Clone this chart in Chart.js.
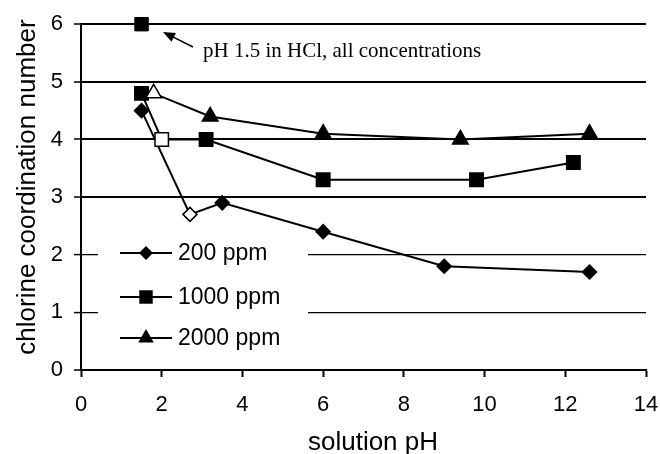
<!DOCTYPE html>
<html>
<head>
<meta charset="utf-8">
<script src="https://cdn.jsdelivr.net/npm/chart.js@4"></script>
<style>
  body { margin: 0; background: #fff; }
  canvas { display: block; }
</style>
</head>
<body>
<canvas id="myChart" width="660" height="454"></canvas>
<script>
// data
const ph200 = [1.5, 2.7, 3.5, 6.0, 9.0, 12.6];
const cn200 = [4.5, 2.7, 2.9, 2.4, 1.8, 1.7];
const ph1000 = [1.5, 2.0, 3.1, 6.0, 9.8, 12.2];
const cn1000 = [4.8, 4.0, 4.0, 3.3, 3.3, 3.6];
const ph2000 = [1.8, 3.2, 6.0, 9.4, 12.6];
const cn2000 = [4.8, 4.4, 4.1, 4.0, 4.1];
const phHCl = [1.5];
const cnHCl = [6.0];
// which points are drawn hollow
const open200 = [1];
const open1000 = [1];
const open2000 = [0];

const seriesNames = ['200 ppm', '1000 ppm', '2000 ppm'];
const xTicks = [0, 2, 4, 6, 8, 10, 12, 14];
const yTicks = [0, 1, 2, 3, 4, 5, 6];

const SANS = "'Liberation Sans', Arial, sans-serif";
const SERIF = "'Liberation Serif', 'Times New Roman', serif";

function pts(xs, ys) {
    return xs.map((x, i) => ({ x: x, y: ys[i] }));
}
function fills(n, open) {
    const out = [];
    for (let i = 0; i < n; i++) out.push(open.includes(i) ? '#fff' : '#000');
    return out;
}

function marker(ctx, style, x, y, r) {
    ctx.beginPath();
    if (style === 'rect') {
        const s = r * Math.SQRT1_2;
        ctx.rect(x - s, y - s, 2 * s, 2 * s);
    } else if (style === 'rectRot') {
        ctx.moveTo(x - r, y); ctx.lineTo(x, y - r); ctx.lineTo(x + r, y); ctx.lineTo(x, y + r);
        ctx.closePath();
    } else {
        ctx.moveTo(x, y - r);
        ctx.lineTo(x + r * 0.866, y + r * 0.5);
        ctx.lineTo(x - r * 0.866, y + r * 0.5);
        ctx.closePath();
    }
    ctx.fillStyle = '#000';
    ctx.fill();
}

const legendStyles = [['rectRot', 7], ['rect', 9.5], ['triangle', 9]];

const extras = {
    id: 'extras',
    beforeDatasetsDraw(chart) {
        const ctx = chart.ctx;
        ctx.save();
        // legend sits inside the plot and hides the grid behind it
        ctx.fillStyle = '#fff';
        ctx.fillRect(98, 230, 210, 128);
        const rows = [253, 297, 338];
        ctx.font = '23px ' + SANS;
        ctx.textBaseline = 'middle';
        rows.forEach((y, i) => {
            ctx.strokeStyle = '#000';
            ctx.lineWidth = 2;
            ctx.beginPath();
            ctx.moveTo(120, y); ctx.lineTo(172, y);
            ctx.stroke();
            marker(ctx, legendStyles[i][0], 146, y, legendStyles[i][1]);
            ctx.fillStyle = '#000';
            ctx.fillText(seriesNames[i], 178, y + 1);
        });
        ctx.restore();
    },
    afterDraw(chart) {
        const ctx = chart.ctx;
        ctx.save();
        ctx.fillStyle = '#000';
        ctx.strokeStyle = '#000';
        // axis titles
        ctx.font = '26px ' + SANS;
        ctx.textAlign = 'center';
        ctx.textBaseline = 'alphabetic';
        ctx.fillText('solution pH', 373, 450);
        ctx.save();
        ctx.translate(35, 187);
        ctx.rotate(-Math.PI / 2);
        ctx.fillText('chlorine coordination number', 0, 0);
        ctx.restore();
        // annotation with arrow
        ctx.font = '21px ' + SERIF;
        ctx.textAlign = 'left';
        ctx.fillText('pH 1.5 in HCl, all concentrations', 203, 57);
        const x1 = 193, y1 = 47, x2 = 163, y2 = 32;
        const a = Math.atan2(y2 - y1, x2 - x1);
        ctx.lineWidth = 1.5;
        ctx.beginPath();
        ctx.moveTo(x1, y1);
        ctx.lineTo(x2 - 6 * Math.cos(a), y2 - 6 * Math.sin(a));
        ctx.stroke();
        ctx.beginPath();
        ctx.moveTo(x2, y2);
        ctx.lineTo(x2 - 12 * Math.cos(a) + 5 * Math.sin(a), y2 - 12 * Math.sin(a) - 5 * Math.cos(a));
        ctx.lineTo(x2 - 12 * Math.cos(a) - 5 * Math.sin(a), y2 - 12 * Math.sin(a) + 5 * Math.cos(a));
        ctx.closePath();
        ctx.fill();
        ctx.restore();
    }
};

document.addEventListener("DOMContentLoaded", function () {
    const ctx = document.getElementById("myChart");
    new Chart(ctx, {
        type: 'scatter',
        data: {
            datasets: [{
                label: seriesNames[2],
                data: pts(ph2000, cn2000),
                showLine: true,
                borderColor: '#000',
                borderWidth: 2,
                pointStyle: 'triangle',
                pointRadius: 9,
                pointBorderWidth: 1.5,
                pointBorderColor: '#000',
                pointBackgroundColor: fills(ph2000.length, open2000),
                clip: false
            }, {
                label: seriesNames[1],
                data: pts(ph1000, cn1000),
                showLine: true,
                borderColor: '#000',
                borderWidth: 2,
                pointStyle: 'rect',
                pointRadius: 9.5,
                pointBorderWidth: 1.5,
                pointBorderColor: '#000',
                pointBackgroundColor: fills(ph1000.length, open1000),
                clip: false
            }, {
                label: seriesNames[0],
                data: pts(ph200, cn200),
                showLine: true,
                borderColor: '#000',
                borderWidth: 2,
                pointStyle: 'rectRot',
                pointRadius: 7,
                pointBorderWidth: 1.5,
                pointBorderColor: '#000',
                pointBackgroundColor: fills(ph200.length, open200),
                clip: false
            }, {
                label: 'HCl',
                data: pts(phHCl, cnHCl),
                showLine: false,
                pointStyle: 'rect',
                pointRadius: 9.5,
                pointBorderWidth: 1,
                pointBorderColor: '#000',
                pointBackgroundColor: '#000',
                clip: false
            }]
        },
        options: {
            responsive: false,
            animation: false,
            events: [],
            layout: { padding: { top: 21, right: 0, left: 0, bottom: 0 } },
            plugins: {
                legend: { display: false },
                tooltip: { enabled: false }
            },
            scales: {
                x: {
                    type: 'linear',
                    min: 0,
                    max: 14,
                    afterBuildTicks: s => { s.ticks = xTicks.map(v => ({ value: v })); },
                    afterFit: s => { s.height = 84; s.paddingRight = 14; },
                    ticks: { color: '#000', font: { family: SANS, size: 22 }, padding: 15 },
                    grid: { drawOnChartArea: false, drawTicks: true, tickLength: 7, tickColor: '#000', tickWidth: 2 },
                    border: { display: true, color: '#000', width: 2 }
                },
                y: {
                    min: 0,
                    max: 6,
                    afterBuildTicks: s => { s.ticks = yTicks.map(v => ({ value: v })); },
                    afterFit: s => { s.width = 81; },
                    ticks: { color: '#000', font: { family: SANS, size: 22 }, padding: 11 },
                    grid: {
                        color: '#000',
                        lineWidth: c => (c.tick && (c.tick.value === 1 || c.tick.value === 2)) ? 1.2 : 2,
                        drawTicks: true,
                        tickLength: 7,
                        tickColor: '#000',
                        tickWidth: 1.5
                    },
                    border: { display: true, color: '#000', width: 2 }
                }
            }
        },
        plugins: [extras]
    });
});
</script>
</body>
</html>
